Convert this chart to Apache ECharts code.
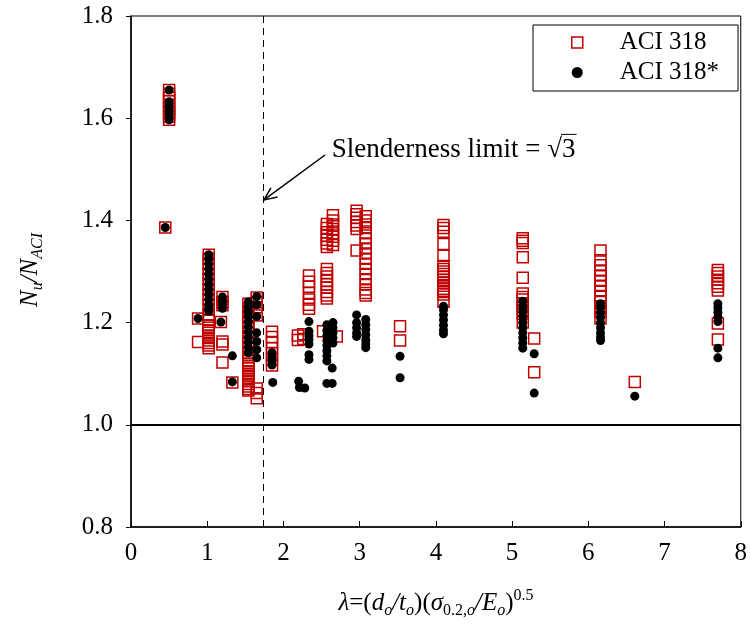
<!DOCTYPE html>
<html>
<head>
<meta charset="utf-8">
<script src="https://cdn.jsdelivr.net/npm/echarts@6/dist/echarts.min.js"></script>
<style>
html,body{margin:0;padding:0;background:#fff;}
#chart{width:750px;height:626px;}
</style>
</head>
<body>
<div id="chart"></div>
<script>
// ---- data: [lambda, Nu/N_ACI] ----
var aci318 = [
  [0.50,1.655],[0.50,1.648],[0.50,1.640],[0.50,1.633],[0.50,1.625],[0.50,1.618],[0.50,1.610],[0.50,1.603],[0.50,1.597],
  [0.45,1.386],
  [1.02,1.333],[1.02,1.325],[1.02,1.315],[1.02,1.305],[1.02,1.295],[1.02,1.285],[1.02,1.275],[1.02,1.265],[1.02,1.255],[1.02,1.245],[1.02,1.235],[1.02,1.225],[1.02,1.215],[1.02,1.205],[1.02,1.195],[1.02,1.190],[1.02,1.185],[1.02,1.180],[1.02,1.175],[1.02,1.170],[1.02,1.165],[1.02,1.160],[1.02,1.155],[1.02,1.150],
  [0.88,1.208],[0.88,1.162],
  [1.20,1.250],[1.20,1.240],[1.20,1.234],[1.18,1.201],[1.20,1.163],[1.20,1.157],[1.20,1.122],
  [1.33,1.083],
  [1.54,1.237],[1.54,1.228],[1.54,1.220],[1.54,1.210],[1.54,1.200],[1.54,1.190],[1.54,1.180],[1.54,1.170],[1.54,1.160],[1.54,1.150],[1.54,1.140],[1.54,1.133],[1.54,1.125],[1.54,1.120],[1.54,1.115],[1.54,1.110],[1.54,1.105],[1.54,1.100],[1.54,1.095],[1.54,1.090],[1.54,1.085],[1.54,1.080],[1.54,1.075],[1.54,1.070],[1.54,1.067],
  [1.65,1.249],[1.65,1.240],[1.65,1.230],[1.65,1.214],[1.65,1.071],[1.65,1.062],[1.65,1.052],
  [1.85,1.182],[1.85,1.172],[1.85,1.162],[1.85,1.150],[1.85,1.140],[1.85,1.128],[1.85,1.116],
  [2.19,1.175],[2.19,1.166],[2.26,1.177],[2.26,1.168],
  [2.335,1.292],[2.335,1.280],[2.335,1.270],[2.335,1.258],[2.335,1.245],[2.335,1.235],[2.335,1.227],
  [2.52,1.183],
  [2.57,1.393],[2.57,1.385],[2.57,1.377],[2.57,1.370],[2.57,1.362],[2.57,1.355],[2.57,1.348],[2.57,1.305],[2.57,1.297],[2.57,1.290],[2.57,1.282],[2.57,1.275],[2.57,1.268],[2.57,1.260],[2.57,1.253],[2.57,1.247],
  [2.65,1.410],[2.65,1.400],[2.65,1.392],[2.65,1.383],[2.65,1.375],[2.65,1.368],[2.65,1.360],[2.65,1.352],
  [2.70,1.173],
  [2.96,1.419],[2.96,1.412],[2.96,1.405],[2.96,1.397],[2.96,1.390],[2.96,1.383],[2.96,1.341],
  [3.08,1.408],[3.08,1.400],[3.08,1.392],[3.08,1.385],[3.08,1.375],[3.08,1.365],[3.08,1.355],[3.08,1.345],[3.08,1.335],[3.08,1.325],[3.08,1.315],[3.08,1.305],[3.08,1.295],[3.08,1.285],[3.08,1.275],[3.08,1.265],[3.08,1.258],[3.08,1.253],
  [3.53,1.193],[3.53,1.165],
  [4.10,1.391],[4.10,1.385],[4.10,1.378],[4.10,1.354],[4.10,1.331],[4.10,1.311],[4.10,1.305],[4.10,1.300],[4.10,1.295],[4.10,1.290],[4.10,1.284],[4.10,1.278],[4.10,1.272],[4.10,1.266],[4.10,1.260],[4.10,1.255],[4.10,1.241],
  [5.14,1.365],[5.14,1.360],[5.14,1.356],[5.14,1.328],[5.14,1.288],[5.14,1.257],[5.14,1.250],[5.14,1.245],[5.14,1.238],[5.14,1.230],[5.14,1.224],[5.14,1.217],[5.14,1.200],
  [5.29,1.169],[5.29,1.103],
  [6.16,1.341],[6.16,1.322],[6.16,1.312],[6.16,1.302],[6.16,1.292],[6.16,1.282],[6.16,1.272],[6.16,1.262],[6.16,1.252],[6.16,1.242],[6.16,1.232],[6.16,1.222],[6.16,1.208],
  [6.61,1.084],
  [7.70,1.303],[7.70,1.297],[7.70,1.290],[7.70,1.284],[7.70,1.277],[7.70,1.270],[7.70,1.263],[7.70,1.198],[7.70,1.167]
];
var aci318Star = [
  [0.50,1.655],[0.50,1.632],[0.50,1.625],[0.50,1.617],[0.50,1.610],[0.50,1.603],[0.50,1.597],
  [0.45,1.386],
  [1.02,1.333],[1.02,1.325],[1.02,1.315],[1.02,1.305],[1.02,1.295],[1.02,1.285],[1.02,1.275],[1.02,1.265],[1.02,1.255],[1.02,1.245],[1.02,1.235],[1.02,1.228],[1.02,1.222],
  [0.88,1.208],
  [1.20,1.250],[1.20,1.242],[1.20,1.235],[1.20,1.228],[1.18,1.201],
  [1.33,1.135],[1.33,1.084],
  [1.54,1.241],[1.54,1.232],[1.54,1.222],[1.54,1.212],[1.54,1.202],[1.54,1.192],[1.54,1.182],[1.54,1.172],[1.54,1.162],[1.54,1.152],[1.54,1.141],
  [1.65,1.251],[1.65,1.235],[1.65,1.212],[1.65,1.180],[1.65,1.163],[1.65,1.147],[1.65,1.131],
  [1.85,1.141],[1.85,1.133],[1.85,1.125],[1.85,1.117],[1.86,1.083],
  [2.20,1.085],[2.21,1.073],[2.28,1.072],
  [2.335,1.202],[2.335,1.183],[2.335,1.175],[2.335,1.167],[2.335,1.158],[2.335,1.137],[2.335,1.128],
  [2.57,1.196],[2.57,1.185],[2.57,1.175],[2.57,1.165],[2.57,1.155],[2.57,1.145],[2.57,1.135],[2.57,1.125],[2.57,1.081],
  [2.65,1.200],[2.65,1.190],[2.65,1.180],[2.65,1.170],[2.65,1.160],[2.64,1.111],[2.64,1.081],
  [2.96,1.215],[2.96,1.200],[2.96,1.190],[2.96,1.180],[2.96,1.173],
  [3.08,1.206],[3.08,1.196],[3.08,1.186],[3.08,1.176],[3.08,1.166],[3.08,1.158],[3.08,1.151],
  [3.53,1.134],[3.53,1.092],
  [4.10,1.232],[4.10,1.225],[4.10,1.215],[4.10,1.205],[4.10,1.195],[4.10,1.185],[4.10,1.178],
  [5.14,1.242],[5.14,1.232],[5.14,1.222],[5.14,1.212],[5.14,1.200],[5.14,1.190],[5.14,1.180],[5.14,1.170],[5.14,1.160],[5.14,1.150],
  [5.29,1.139],[5.29,1.062],
  [6.16,1.237],[6.16,1.228],[6.16,1.219],[6.16,1.210],[6.16,1.200],[6.16,1.190],[6.16,1.180],[6.16,1.172],[6.16,1.165],
  [6.61,1.056],
  [7.70,1.237],[7.70,1.229],[7.70,1.220],[7.70,1.211],[7.70,1.202],[7.70,1.150],[7.70,1.131]
];
var seriesNames = ['ACI 318', 'ACI 318*'];
var slendernessLimit = Math.sqrt(3);
var referenceRatio = 1.0;
var annotationText = 'Slenderness limit = \u221A';
var annotationRoot = '3';
var annotationAnchor = [2.635, 1.538];   // text left-middle, data coords
var arrowTail = [2.545, 1.528];
var arrowTip = [1.745, 1.44];

var FONT = '"Liberation Serif", "Times New Roman", serif';
var RED = '#c00000';
var ANN_SIZE = 27;

var chart = echarts.init(document.getElementById('chart'), null, {renderer: 'canvas'});

var option = {
  animation: false,
  backgroundColor: '#fff',
  grid: {left: 131, right: 9, top: 16, bottom: 99, show: true, borderColor: '#000', borderWidth: 1, backgroundColor: 'transparent'},
  legend: {
    orient: 'vertical', left: 533, top: 25,
    itemWidth: 11, itemHeight: 11, itemGap: 5,
    padding: [5, 19, 6, 38],
    borderColor: '#000', borderWidth: 1, borderRadius: 0,
    textStyle: {fontFamily: FONT, fontSize: 25, color: '#000', padding: [0, 0, 0, 32], lineHeight: 25},
    data: [
      {name: seriesNames[0], icon: 'rect', itemStyle: {color: '#fff', borderColor: RED, borderWidth: 1.5, opacity: 1}},
      {name: seriesNames[1], icon: 'circle', itemStyle: {color: '#000', opacity: 1}}
    ]
  },
  xAxis: {
    type: 'value', min: 0, max: 8, interval: 1,
    axisLine: {show: true, onZero: false, lineStyle: {color: '#000', width: 1.5}},
    axisTick: {show: true, inside: true, length: 6, lineStyle: {color: '#000', width: 1}},
    axisLabel: {fontFamily: FONT, fontSize: 25, color: '#000', margin: 14},
    splitLine: {show: false}
  },
  yAxis: {
    type: 'value', min: 0.8, max: 1.8, interval: 0.2,
    axisLine: {show: true, onZero: false, lineStyle: {color: '#000', width: 1.5}},
    axisTick: {show: true, inside: false, length: 5, lineStyle: {color: '#000', width: 1}},
    axisLabel: {fontFamily: FONT, fontSize: 25, color: '#000', margin: 18, formatter: function (v) { return v.toFixed(1); }},
    splitLine: {show: false}
  },
  series: [
    {
      name: seriesNames[0], type: 'scatter', data: aci318, symbol: 'rect', symbolSize: 11,
      itemStyle: {color: 'rgba(255,255,255,0)', borderColor: RED, borderWidth: 1.5, opacity: 1},
      z: 2,
      markLine: {
        silent: true, symbol: ['none', 'none'], label: {show: false}, animation: false,
        data: [
          {xAxis: slendernessLimit, lineStyle: {type: [7, 5], color: '#000', width: 1}},
          {yAxis: referenceRatio, lineStyle: {type: 'solid', color: '#000', width: 2}}
        ]
      }
    },
    {
      name: seriesNames[1], type: 'scatter', data: aci318Star, symbol: 'circle', symbolSize: 9,
      itemStyle: {color: '#000', opacity: 1}, z: 3
    }
  ]
};
chart.setOption(option);

function px(p) { return chart.convertToPixel({gridIndex: 0}, p); }
var a = px(annotationAnchor), t0 = px(arrowTail), t1 = px(arrowTip);
var ang = Math.atan2(t0[1] - t1[1], t0[0] - t1[0]);
var wing = 14, spread = 0.42;
var w1 = [t1[0] + wing * Math.cos(ang + spread), t1[1] + wing * Math.sin(ang + spread)];
var w2 = [t1[0] + wing * Math.cos(ang - spread), t1[1] + wing * Math.sin(ang - spread)];

var ctx = document.createElement('canvas').getContext('2d');
ctx.font = ANN_SIZE + 'px ' + FONT;
var wPre = ctx.measureText(annotationText).width;
var wRoot = ctx.measureText(annotationRoot).width;

var mainS = {fontFamily: FONT, fontSize: 25, fontStyle: 'italic', color: '#000'};
function ext(o, e) { var r = {}; for (var k in o) r[k] = o[k]; for (var k2 in e) r[k2] = e[k2]; return r; }
var richX = {
  i: ext(mainS, {lineHeight: 32}),
  u: ext(mainS, {fontStyle: 'normal', lineHeight: 32}),
  s: ext(mainS, {fontSize: 16, padding: [16, 0, 0, 0]}),
  su: ext(mainS, {fontSize: 16, fontStyle: 'normal', padding: [16, 0, 0, 0]}),
  p: ext(mainS, {fontSize: 16, fontStyle: 'normal', padding: [0, 0, 14, 0]})
};

chart.setOption({
  graphic: [
    {type: 'text', x: a[0], y: a[1], silent: true,
      style: {text: annotationText + annotationRoot, font: ANN_SIZE + 'px ' + FONT, fill: '#000', textAlign: 'left', textVerticalAlign: 'middle'}},
    {type: 'line', silent: true, shape: {x1: a[0] + wPre - 1, y1: a[1] - 15.5, x2: a[0] + wPre + wRoot + 1, y2: a[1] - 15.5}, style: {stroke: '#000', lineWidth: 1}},
    {type: 'line', silent: true, shape: {x1: t0[0], y1: t0[1], x2: t1[0], y2: t1[1]}, style: {stroke: '#000', lineWidth: 1.5}},
    {type: 'polyline', silent: true, shape: {points: [w1, t1, w2]}, style: {stroke: '#000', lineWidth: 1.5, fill: null}},
    {type: 'text', silent: true, x: 436, y: 603,
      style: {text: '{i|\u03BB}{u|=(}{i|d}{s|o}{i|/t}{s|o}{u|)(}{i|\u03C3}{su|0.2,}{s|o}{i|/E}{s|o}{u|)}{p|0.5}', rich: richX, textAlign: 'center', textVerticalAlign: 'middle'}},
    {type: 'text', silent: true, x: 30, y: 270, rotation: Math.PI / 2,
      style: {text: '{i|N}{s|u}{i|/N}{s|ACI}', rich: richX, textAlign: 'center', textVerticalAlign: 'middle'}}
  ]
});
</script>
</body>
</html>
